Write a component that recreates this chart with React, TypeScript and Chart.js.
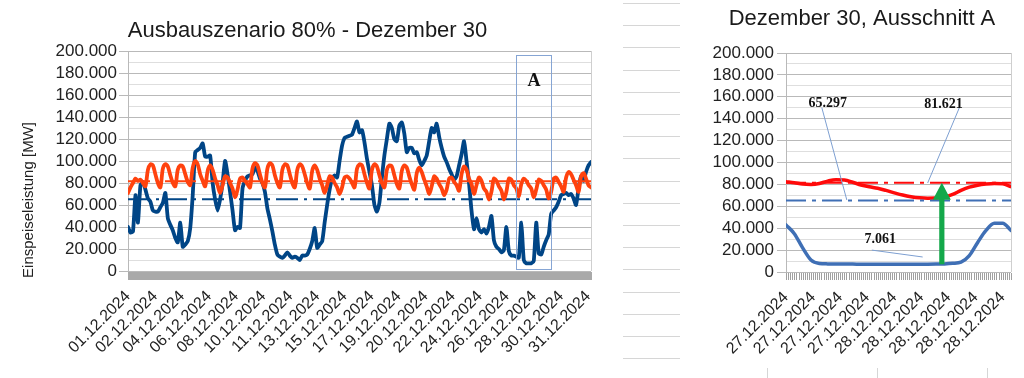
import React, { useEffect, useRef } from 'react';
import { Chart, registerables } from 'chart.js';

Chart.register(...registerables);

const SANS = "'Liberation Sans', Arial, sans-serif";
const SERIF = "'Liberation Serif', 'Times New Roman', serif";

// ---------------- main chart data (values in 1000 MW) ----------------
const mainTitle = 'Ausbauszenario 80% - Dezember 30';
const mainYTitle = 'Einspeiseleistung [MW]';
const mainXLabels = [
  '01.12.2024', '02.12.2024', '04.12.2024', '06.12.2024', '08.12.2024', '10.12.2024',
  '11.12.2024', '13.12.2024', '15.12.2024', '17.12.2024', '19.12.2024', '20.12.2024',
  '22.12.2024', '24.12.2024', '26.12.2024', '28.12.2024', '30.12.2024', '31.12.2024',
];
const mainLabelStepHours = 43.5;
const mainSampleHours = 4;
const mainTotalHours = 744;

// renewable generation, one value every 4 hours
const generation = [
  40, 35, 36, 69, 44, 78, 81, 74, 66, 63,
  55, 54, 54, 58, 62, 71, 48, 42, 37, 30,
  26, 44, 22, 24, 27, 39, 69, 108, 110, 112,
  116, 104, 104, 105, 80, 65, 55, 65, 80, 100,
  88, 72, 55, 37, 40, 39, 75, 82, 86, 87,
  88, 94, 91, 84, 80, 72, 57, 47, 36, 24,
  15, 13, 12, 14, 17, 14, 12, 13, 12, 10,
  14, 14, 15, 20, 27, 39, 21, 24, 27, 44,
  60, 74, 84, 87, 85, 100, 114, 121, 122, 123,
  124, 130, 136, 126, 128, 117, 102, 90, 78, 60,
  54, 62, 85, 105, 120, 134, 130, 120, 118, 132,
  135, 125, 108, 112, 112, 107, 108, 101, 96, 100,
  105, 118, 130, 126, 134, 122, 112, 104, 99, 93,
  88, 83, 86, 96, 106, 118, 100, 80, 55, 38,
  48, 38, 35, 38, 34, 40, 50, 28, 22, 20,
  17, 19, 40, 18, 14, 14, 13, 12, 44, 10,
  7, 7, 7, 9, 44, 16, 15, 22, 28, 33,
  52, 55, 58, 63, 69, 70, 71, 69, 70, 66,
  60, 75, 86, 82, 90, 96, 99,
];

// demand, one value every 4 hours (6 per day)
const demand = [
  71, 76, 80, 84, 82, 83,
  80, 77, 92, 97, 96, 88,
  80, 76, 93, 97, 95, 87,
  80, 77, 92, 96, 95, 88,
  81, 78, 94, 100, 97, 88,
  82, 77, 91, 96, 92, 84,
  78, 71, 78, 86, 85, 80,
  75, 67, 74, 84, 85, 82,
  79, 76, 93, 98, 96, 88,
  80, 76, 93, 98, 96, 87,
  80, 76, 92, 97, 96, 88,
  80, 76, 92, 97, 95, 88,
  80, 75, 91, 96, 92, 84,
  78, 71, 78, 86, 85, 80,
  76, 70, 76, 85, 86, 84,
  80, 76, 93, 97, 96, 88,
  80, 75, 92, 97, 95, 87,
  80, 76, 92, 96, 95, 87,
  79, 75, 91, 96, 94, 86,
  79, 74, 89, 94, 90, 83,
  77, 70, 77, 86, 84, 79,
  75, 69, 74, 84, 85, 81,
  78, 73, 88, 95, 92, 84,
  79, 70, 78, 85, 82, 75,
  72, 65, 72, 84, 82, 77,
  73, 65, 72, 84, 83, 78,
  75, 68, 79, 84, 82, 78,
  75, 67, 74, 83, 82, 78,
  74, 66, 72, 84, 85, 81,
  77, 72, 85, 90, 88, 83,
  78, 72, 86, 89, 84, 78,
  76,
];

const generationMean = 65.297;
const demandMean = 81.621;
const sectionAHours = [623.5, 679.7];
const sectionAValues = [1.8, 196.4];
const sectionALabel = 'A';
const sectionALabelValue = 172;

// ---------------- zoom chart data (values in 1000 MW) ----------------
const zoomTitle = 'Dezember 30, Ausschnitt A';
const zoomXLabels = [
  '27.12.2024', '27.12.2024', '27.12.2024', '27.12.2024',
  '28.12.2024', '28.12.2024', '28.12.2024', '28.12.2024', '28.12.2024',
];
const zoomLabelStepHours = 3.25;
const zoomTotalHours = 27;
const zoomGeneration = [
  43, 35, 22, 11, 7.8, 7.4, 7.3, 7.2, 7.2, 7.1,
  7.1, 7.1, 7.1, 7.1, 7.1, 7.08, 7.061, 7.1, 7.2, 7.4,
  7.9, 9, 15, 27, 38, 44.5, 44.5, 38,
];
const zoomDemand = [
  82.5, 81.5, 80.3, 80.0, 80.8, 83, 84.3, 84, 82, 79.5,
  77.8, 76.5, 74.5, 72.3, 70.3, 68.8, 67.8, 67.4, 67.5, 68.5,
  70.8, 74.5, 77.5, 79.3, 80.3, 80.8, 80.5, 78,
];
const zoomMin = 7.061;
const zoomArrowHour = 18.7;
const zoomNoteTexts = ['65.297', '81.621', '7.061'];
const zoomNoteHours = [5.0, 18.9, 11.3];
const zoomNoteValues = [154.3, 153.4, 30.1];
const zoomLeaderStart = [[4.3, 150], [20.8, 150], [10.3, 20]];
const zoomLeaderEnd = [[7.3, 65.7], [17.0, 81.3], [16.4, 13.7]];

// ---------------- helpers ----------------
const fmtK = (v: number) => (v === 0 ? '0' : `${v}.000`);
const isMajor = (ctx: any) => ctx.tick && Math.round(ctx.tick.value) % 20 === 0;

function yAxis(width: number, tickPad: number) {
  return {
    min: 0,
    max: 200,
    ticks: {
      stepSize: 10,
      autoSkip: false,
      padding: tickPad,
      color: '#222',
      font: { family: SANS, size: 17 },
      callback: (v: any) => (Math.round(v) % 20 === 0 ? fmtK(Math.round(v)) : ''),
    },
    grid: {
      color: (ctx: any) => (isMajor(ctx) ? '#b9b9b9' : '#dedede'),
      tickColor: (ctx: any) => (isMajor(ctx) ? '#b9b9b9' : 'rgba(0,0,0,0)'),
      tickLength: 9,
      lineWidth: 1,
    },
    border: { color: '#b9b9b9' },
    afterFit: (s: any) => {
      s.width = width;
    },
  };
}

function xAxis(total: number, step: number, labels: string[], height: number) {
  return {
    type: 'linear',
    min: 0,
    max: total,
    afterBuildTicks: (s: any) => {
      s.ticks = labels.map((_, i) => ({ value: i * step }));
    },
    ticks: {
      autoSkip: false,
      minRotation: 45,
      maxRotation: 45,
      padding: 6,
      color: '#222',
      font: { family: SANS, size: 16 },
      callback: (_v: any, i: number) => labels[i],
    },
    grid: { drawOnChartArea: false, drawTicks: true, tickLength: 10, tickColor: 'rgba(0,0,0,0)' },
    border: { display: false },
    afterFit: (s: any) => {
      s.height = height;
    },
  };
}

function bandPlugin(step: number, color: string, len: number) {
  return {
    id: 'band',
    afterDraw(chart: any) {
      const xs = chart.scales.x;
      const { ctx, chartArea } = chart;
      ctx.save();
      ctx.strokeStyle = color;
      ctx.lineWidth = 1;
      ctx.beginPath();
      for (let v = xs.min; v <= xs.max + 1e-9; v += step) {
        const px = Math.round(xs.getPixelForValue(v)) + 0.5;
        ctx.moveTo(px, chartArea.bottom + 1);
        ctx.lineTo(px, chartArea.bottom + 1 + len);
      }
      ctx.stroke();
      // right border of plot area
      ctx.strokeStyle = '#cfcfcf';
      ctx.beginPath();
      ctx.moveTo(Math.round(chartArea.right) + 0.5, chartArea.top);
      ctx.lineTo(Math.round(chartArea.right) + 0.5, chartArea.bottom);
      ctx.stroke();
      ctx.restore();
    },
  };
}

function hLine(value: number, total: number, color: string, dash: number[], order: number) {
  return {
    data: [
      { x: 0, y: value },
      { x: total, y: value },
    ],
    borderColor: color,
    borderWidth: 2,
    borderDash: dash,
    pointRadius: 0,
    order,
  };
}

function useChart(ref: React.RefObject<HTMLCanvasElement>, make: () => any) {
  useEffect(() => {
    if (!ref.current) return;
    const chart = new Chart(ref.current, make());
    return () => chart.destroy();
  }, []);
}

// ---------------- main chart ----------------
function MainChart() {
  const ref = useRef<HTMLCanvasElement>(null);
  useChart(ref, () => {
    const genPts = generation.map((v, i) => ({ x: i * mainSampleHours, y: v }));
    const demPts = demand.map((v, i) => ({ x: i * mainSampleHours, y: v }));
    const yTitlePlugin = {
      id: 'ytitle',
      afterDraw(chart: any) {
        const { ctx } = chart;
        ctx.save();
        ctx.translate(28.5, 200);
        ctx.rotate(-Math.PI / 2);
        ctx.font = `15px ${SANS}`;
        ctx.fillStyle = '#222';
        ctx.textAlign = 'center';
        ctx.textBaseline = 'middle';
        ctx.fillText(mainYTitle, 0, 0);
        ctx.restore();
      },
    };
    const boxPlugin = {
      id: 'boxA',
      afterDatasetsDraw(chart: any) {
        const { ctx } = chart;
        const xs = chart.scales.x;
        const ys = chart.scales.y;
        const x0 = Math.round(xs.getPixelForValue(sectionAHours[0])) + 0.5;
        const x1 = Math.round(xs.getPixelForValue(sectionAHours[1])) + 0.5;
        const y0 = Math.round(ys.getPixelForValue(sectionAValues[1])) + 0.5;
        const y1 = Math.round(ys.getPixelForValue(sectionAValues[0])) + 0.5;
        ctx.save();
        ctx.strokeStyle = '#86a5d4';
        ctx.lineWidth = 1;
        ctx.strokeRect(x0, y0, x1 - x0, y1 - y0);
        ctx.font = `bold 18px ${SERIF}`;
        ctx.fillStyle = '#111';
        ctx.textAlign = 'center';
        ctx.textBaseline = 'middle';
        ctx.fillText(sectionALabel, (x0 + x1) / 2, ys.getPixelForValue(sectionALabelValue));
        ctx.restore();
      },
    };
    return {
      type: 'line',
      data: {
        datasets: [
          {
            data: genPts,
            borderColor: '#004586',
            borderWidth: 3.8,
            pointRadius: 0,
            tension: 0.2,
            borderJoinStyle: 'round',
            borderCapStyle: 'round',
            order: 2,
          },
          {
            data: demPts,
            borderColor: '#ff420e',
            borderWidth: 3.8,
            pointRadius: 0,
            tension: 0.3,
            borderJoinStyle: 'round',
            borderCapStyle: 'round',
            order: 0,
          },
          hLine(generationMean, mainTotalHours, '#004586', [22, 6, 3, 6], 1),
          hLine(demandMean, mainTotalHours, '#ff420e', [22, 6, 3, 6], 1),
        ],
      },
      options: {
        responsive: false,
        animation: false,
        devicePixelRatio: 1,
        layout: { padding: { left: 24, right: 24, top: 0, bottom: 0 } },
        plugins: {
          legend: { display: false },
          tooltip: { enabled: false },
          title: {
            display: true,
            text: mainTitle,
            color: '#1a1a1a',
            font: { family: SANS, size: 22, weight: 'normal' },
            padding: { top: 18, bottom: 6.6 },
          },
        },
        scales: {
          x: xAxis(mainTotalHours, mainLabelStepHours, mainXLabels, 107),
          y: yAxis(104, 2),
        },
      },
      plugins: [bandPlugin(0.25, '#a9a9a9', 8), yTitlePlugin, boxPlugin],
    };
  });
  return (
    <canvas
      ref={ref}
      width={615}
      height={378}
      style={{ position: 'absolute', left: 0, top: 0, width: 615, height: 378 }}
    />
  );
}

// ---------------- zoom chart ----------------
function ZoomChart() {
  const ref = useRef<HTMLCanvasElement>(null);
  useChart(ref, () => {
    const genPts = zoomGeneration.map((v, i) => ({ x: i, y: v }));
    const demPts = zoomDemand.map((v, i) => ({ x: i, y: v }));
    const notePlugin = {
      id: 'notes',
      afterDatasetsDraw(chart: any) {
        const { ctx } = chart;
        const xs = chart.scales.x;
        const ys = chart.scales.y;
        ctx.save();
        // leader lines
        ctx.strokeStyle = '#7d9fd1';
        ctx.lineWidth = 1;
        zoomLeaderStart.forEach((s, i) => {
          const e = zoomLeaderEnd[i];
          ctx.beginPath();
          ctx.moveTo(xs.getPixelForValue(s[0]), ys.getPixelForValue(s[1]));
          ctx.lineTo(xs.getPixelForValue(e[0]), ys.getPixelForValue(e[1]));
          ctx.stroke();
        });
        // labels
        ctx.font = `bold 14px ${SERIF}`;
        ctx.fillStyle = '#111';
        ctx.textAlign = 'center';
        ctx.textBaseline = 'middle';
        zoomNoteTexts.forEach((t, i) => {
          ctx.fillText(t, xs.getPixelForValue(zoomNoteHours[i]), ys.getPixelForValue(zoomNoteValues[i]));
        });
        // arrow from minimum generation to mean demand
        const x = xs.getPixelForValue(zoomArrowHour);
        const yBase = ys.getPixelForValue(zoomMin);
        const yTip = ys.getPixelForValue(demandMean);
        const headH = 17;
        const headW = 9;
        const shaftW = 2.6;
        ctx.fillStyle = '#14a84a';
        ctx.beginPath();
        ctx.moveTo(x - shaftW, yBase);
        ctx.lineTo(x - shaftW, yTip + headH);
        ctx.lineTo(x - headW, yTip + headH);
        ctx.lineTo(x, yTip);
        ctx.lineTo(x + headW, yTip + headH);
        ctx.lineTo(x + shaftW, yTip + headH);
        ctx.lineTo(x + shaftW, yBase);
        ctx.closePath();
        ctx.fill();
        ctx.restore();
      },
    };
    return {
      type: 'line',
      data: {
        datasets: [
          {
            data: genPts,
            borderColor: '#3f6fb5',
            borderWidth: 3.5,
            pointRadius: 0,
            cubicInterpolationMode: 'monotone',
            borderJoinStyle: 'round',
            borderCapStyle: 'round',
            order: 3,
          },
          {
            data: demPts,
            borderColor: '#ff0a0a',
            borderWidth: 3.5,
            pointRadius: 0,
            cubicInterpolationMode: 'monotone',
            borderJoinStyle: 'round',
            borderCapStyle: 'round',
            order: 2,
          },
          hLine(generationMean, zoomTotalHours, '#3f6fb5', [20, 6, 4, 6], 1),
          hLine(demandMean, zoomTotalHours, '#ff0a0a', [20, 6, 4, 6], 1),
        ],
      },
      options: {
        responsive: false,
        animation: false,
        devicePixelRatio: 1,
        layout: { padding: { left: 13, right: 13, top: 0, bottom: 0 } },
        plugins: {
          legend: { display: false },
          tooltip: { enabled: false },
          title: {
            display: true,
            text: zoomTitle,
            color: '#1a1a1a',
            font: { family: SANS, size: 22, weight: 'normal' },
            padding: { top: 6, bottom: 20.6 },
          },
        },
        scales: {
          x: xAxis(zoomTotalHours, zoomLabelStepHours, zoomXLabels, 106),
          y: yAxis(73, 3),
        },
      },
      plugins: [bandPlugin(0.25, '#a0a0a0', 7), notePlugin],
    };
  });
  return (
    <canvas
      ref={ref}
      width={324}
      height={378}
      style={{ position: 'absolute', left: 700, top: 0, width: 324, height: 378 }}
    />
  );
}

// ---------------- page ----------------
const sheetRowCount = 17;
const sheetColumnXs = [767, 877, 987];

export default function App() {
  return (
    <div
      style={{
        position: 'absolute',
        left: 0,
        top: 0,
        width: 1024,
        height: 378,
        background: '#ffffff',
        overflow: 'hidden',
      }}
    >
      {Array.from({ length: sheetRowCount }, (_, k) => (
        <div
          key={'r' + k}
          style={{
            position: 'absolute',
            left: 623,
            width: 57,
            top: Math.round(3 + k * 22.2),
            height: 1,
            background: '#d6d6d6',
          }}
        />
      ))}
      {sheetColumnXs.map((x) => (
        <div
          key={'c' + x}
          style={{ position: 'absolute', left: x, top: 368, width: 1, height: 10, background: '#d6d6d6' }}
        />
      ))}
      <MainChart />
      <ZoomChart />
    </div>
  );
}
